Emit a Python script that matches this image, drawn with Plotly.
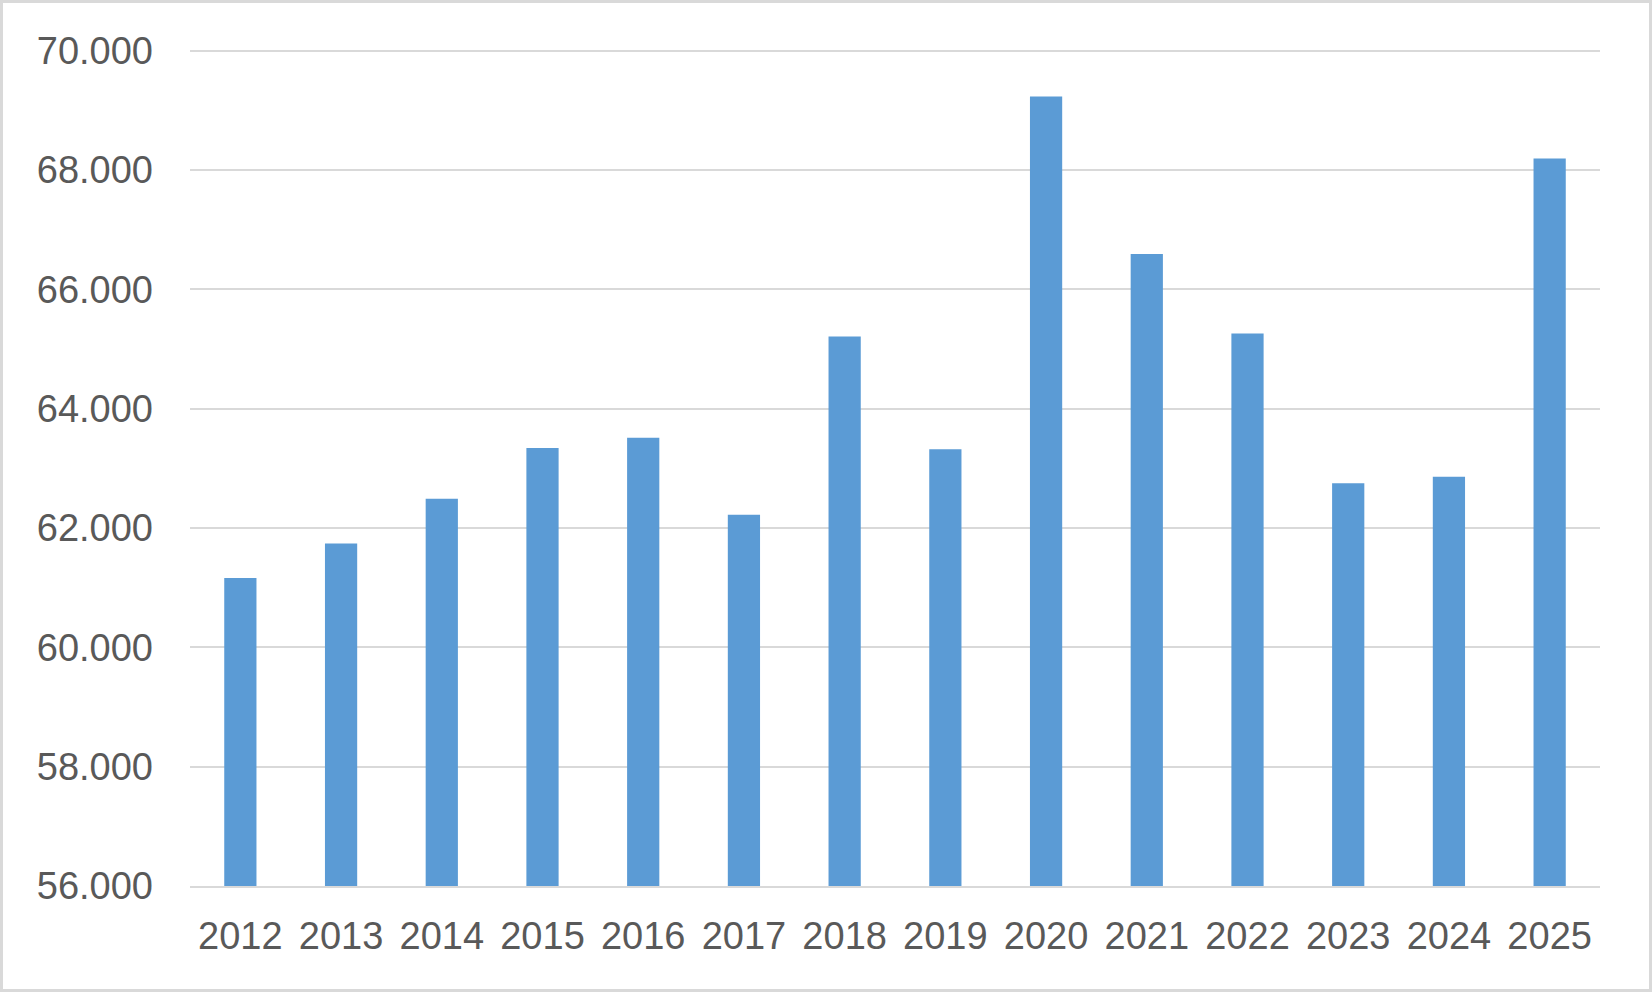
import plotly.graph_objects as go

years = [str(y) for y in range(2012, 2026)]
values = [61160, 61740, 62490, 63340, 63510, 62220, 65210,
          63320, 69230, 66590, 65260, 62750, 62860, 68190]

y_ticks = [56000, 58000, 60000, 62000, 64000, 66000, 68000, 70000]

W, H = 1652, 992
L, R, T, B = 190, 52, 47, 106
pw, ph = W - L - R, H - T - B

fig = go.Figure(go.Bar(x=years, y=values, marker_color='#5b9bd5',
                       marker_line_width=0))

fig.update_layout(
    width=W, height=H,
    margin=dict(l=L, r=R, t=T, b=B),
    paper_bgcolor='white', plot_bgcolor='white',
    bargap=0.68, separators=',.', showlegend=False,
    font=dict(family='Liberation Sans, Arial, sans-serif', size=38, color='#595959'),
    xaxis=dict(showgrid=False, showline=True, linecolor='#d9d9d9', linewidth=2,
               ticks='', ticklabelstandoff=15),
    # small headroom so the 70.000 gridline is drawn
    yaxis=dict(range=[56000, 70060], tickvals=y_ticks, tickformat=',.0f',
               showgrid=True, gridcolor='#d9d9d9', gridwidth=2,
               zeroline=False, showline=False, ticks='', ticklabelstandoff=36),
    shapes=[dict(type='rect', xref='paper', yref='paper',
                 x0=-(L - 1.5) / pw, x1=1 + (R - 1.5) / pw,
                 y0=-(B - 1.5) / ph, y1=1 + (T - 1.5) / ph,
                 line=dict(color='#d9d9d9', width=3), layer='below')],
)

fig.write_html("out.html", config={'displayModeBar': False},
               post_script="document.body.style.margin='0';")
